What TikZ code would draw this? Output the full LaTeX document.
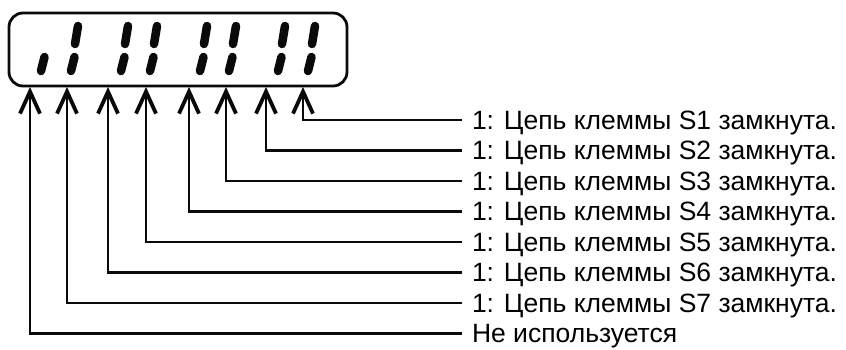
\documentclass[tikz,border=0pt]{standalone}
\usepackage{fontspec}
\setmainfont{Liberation Sans}
\usepackage{xcolor}
\usepackage{tikz}
\usetikzlibrary{arrows.meta}
\definecolor{figline}{RGB}{10,10,10}
\tikzset{
  dispbox/.style ={draw=figline, line width=2.8pt, rounded corners=14pt},
  segm/.style    ={draw=figline, line width=8.5pt, line cap=round},
  lab/.style     ={font=\fontsize{26.5}{30}\selectfont, anchor=west, inner sep=0pt,
                   outer xsep=10pt, text depth=0pt},
  ptr/.style     ={draw=figline, line width=2.5pt,
                   -{Straight Barb[length=22pt,width=20pt,line width=3.8pt]}},
}

\begin{document}
\begin{tikzpicture}[x=1pt,y=-1pt]
  \useasboundingbox (0,0) rectangle (846,350);
  % display window
  \draw[dispbox] (9,13) rectangle (347,86);
  % segments
  \draw[segm] (44.5,57) -- (41,71);
  \draw[segm] (78,26) -- (75,44);   \draw[segm] (74.5,57) -- (71,71);
  \draw[segm] (128,26) -- (125,44); \draw[segm] (124.5,57) -- (121,71);
  \draw[segm] (157,26) -- (154,44); \draw[segm] (153.5,57) -- (150,71);
  \draw[segm] (207,26) -- (204,44); \draw[segm] (203.5,57) -- (200,71);
  \draw[segm] (236,26) -- (233,44); \draw[segm] (232.5,57) -- (229,71);
  \draw[segm] (285,26) -- (282,44); \draw[segm] (281.5,57) -- (278,71);
  \draw[segm] (315,26) -- (312,44); \draw[segm] (311.5,57) -- (308,71);
  % arrow ends on the window
  \coordinate (a1) at (303,87);
  \coordinate (a2) at (266,87);
  \coordinate (a3) at (226,87);
  \coordinate (a4) at (189,87);
  \coordinate (a5) at (146,87);
  \coordinate (a6) at (108,87);
  \coordinate (a7) at (67,87);
  \coordinate (a8) at (30,87);
  % texts
  \node[lab] (s1) at (462,120)   {1: Цепь клеммы S1 замкнута.};
  \node[lab] (s2) at (462,150.5) {1: Цепь клеммы S2 замкнута.};
  \node[lab] (s3) at (462,181)   {1: Цепь клеммы S3 замкнута.};
  \node[lab] (s4) at (462,211.5) {1: Цепь клеммы S4 замкнута.};
  \node[lab] (s5) at (462,242)   {1: Цепь клеммы S5 замкнута.};
  \node[lab] (s6) at (462,272.5) {1: Цепь клеммы S6 замкнута.};
  \node[lab] (s7) at (462,303)   {1: Цепь клеммы S7 замкнута.};
  \node[lab] (s8) at (462,333.5) {Не используется};
  % connectors
  \draw[ptr] (s1.west) -| (a1);
  \draw[ptr] (s2.west) -| (a2);
  \draw[ptr] (s3.west) -| (a3);
  \draw[ptr] (s4.west) -| (a4);
  \draw[ptr] (s5.west) -| (a5);
  \draw[ptr] (s6.west) -| (a6);
  \draw[ptr] (s7.west) -| (a7);
  \draw[ptr] (s8.west) -| (a8);
\end{tikzpicture}
\end{document}
